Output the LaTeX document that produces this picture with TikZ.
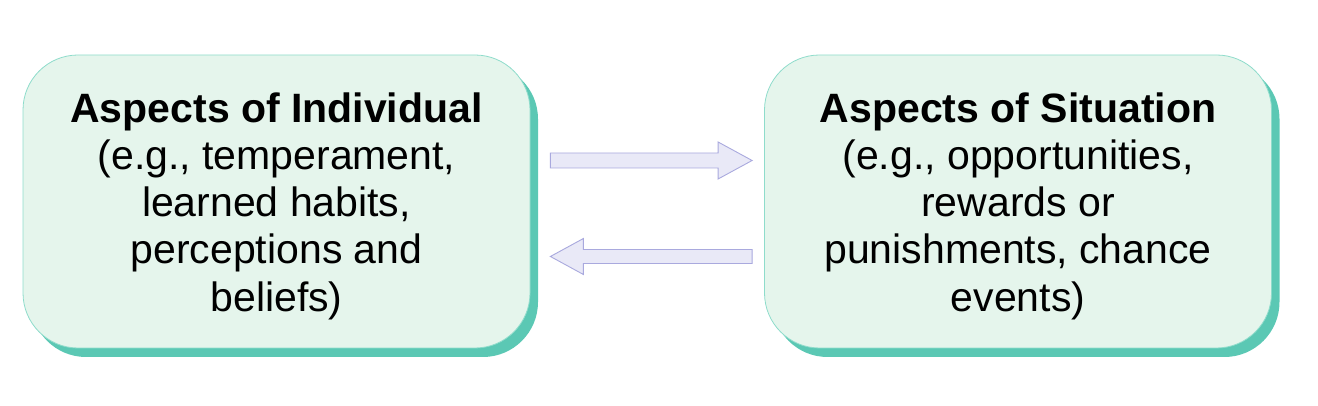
\documentclass[tikz,border=0pt]{standalone}
\usepackage{fontspec}
\setmainfont{Liberation Sans}
\usetikzlibrary{calc,shadows}
\definecolor{boxfill}{HTML}{E5F5EC}
\definecolor{boxline}{HTML}{8EDCCB}
\definecolor{boxshadow}{HTML}{5BC8B4}
\definecolor{arrfill}{HTML}{E9E9F7}
\definecolor{arrline}{HTML}{A9A9DE}
\tikzset{
  infobox/.style={draw=boxline, line width=0.8pt, fill=boxfill, rounded corners=55pt,
    minimum width=507pt, minimum height=293pt, inner sep=0pt,
    general shadow={fill=boxshadow, shadow xshift=8pt, shadow yshift=-9pt}},
  infotext/.style={inner sep=0pt, align=center, font=\fontsize{41}{47.2}\selectfont},
  fatarrow/.style={draw=arrline, line width=0.9pt, fill=arrfill, line join=miter}
}
\begin{document}
\begin{tikzpicture}[x=1pt,y=1pt]
\useasboundingbox (0,0) rectangle (1318,406);
\node[infobox] (L) at (276.5,204.5) {};
\node[infobox] (R) at (1018,204.5) {};
\node[infotext] (Lt) at ($(L.center)+(0,-4.5)$) {\textbf{Aspects of Individual}\\(e.g., temperament,\\learned habits,\\perceptions and\\beliefs)};
\node[infotext] (Rt) at ($(R.center)+(0,-4.5)$) {\textbf{Aspects of Situation}\\(e.g., opportunities,\\rewards or\\punishments, chance\\events)};
% top arrow: L -> R
\coordinate (ta) at ($(L.east)+(20,41)$);
\coordinate (tb) at ($(R.west)+(-12,41)$);
\draw[fatarrow] ($(ta)+(0,7.5)$) -- ($(tb)+(-34,7.5)$) -- ($(tb)+(-34,18.5)$) -- (tb)
  -- ($(tb)+(-34,-18.5)$) -- ($(tb)+(-34,-7.5)$) -- ($(ta)+(0,-7.5)$) -- cycle;
% bottom arrow: R -> L
\coordinate (ba) at ($(R.west)+(-12,-55)$);
\coordinate (bb) at ($(L.east)+(20,-55)$);
\draw[fatarrow] ($(ba)+(0,7)$) -- ($(bb)+(33,7)$) -- ($(bb)+(33,18)$) -- (bb)
  -- ($(bb)+(33,-18)$) -- ($(bb)+(33,-7)$) -- ($(ba)+(0,-7)$) -- cycle;
\end{tikzpicture}
\end{document}
